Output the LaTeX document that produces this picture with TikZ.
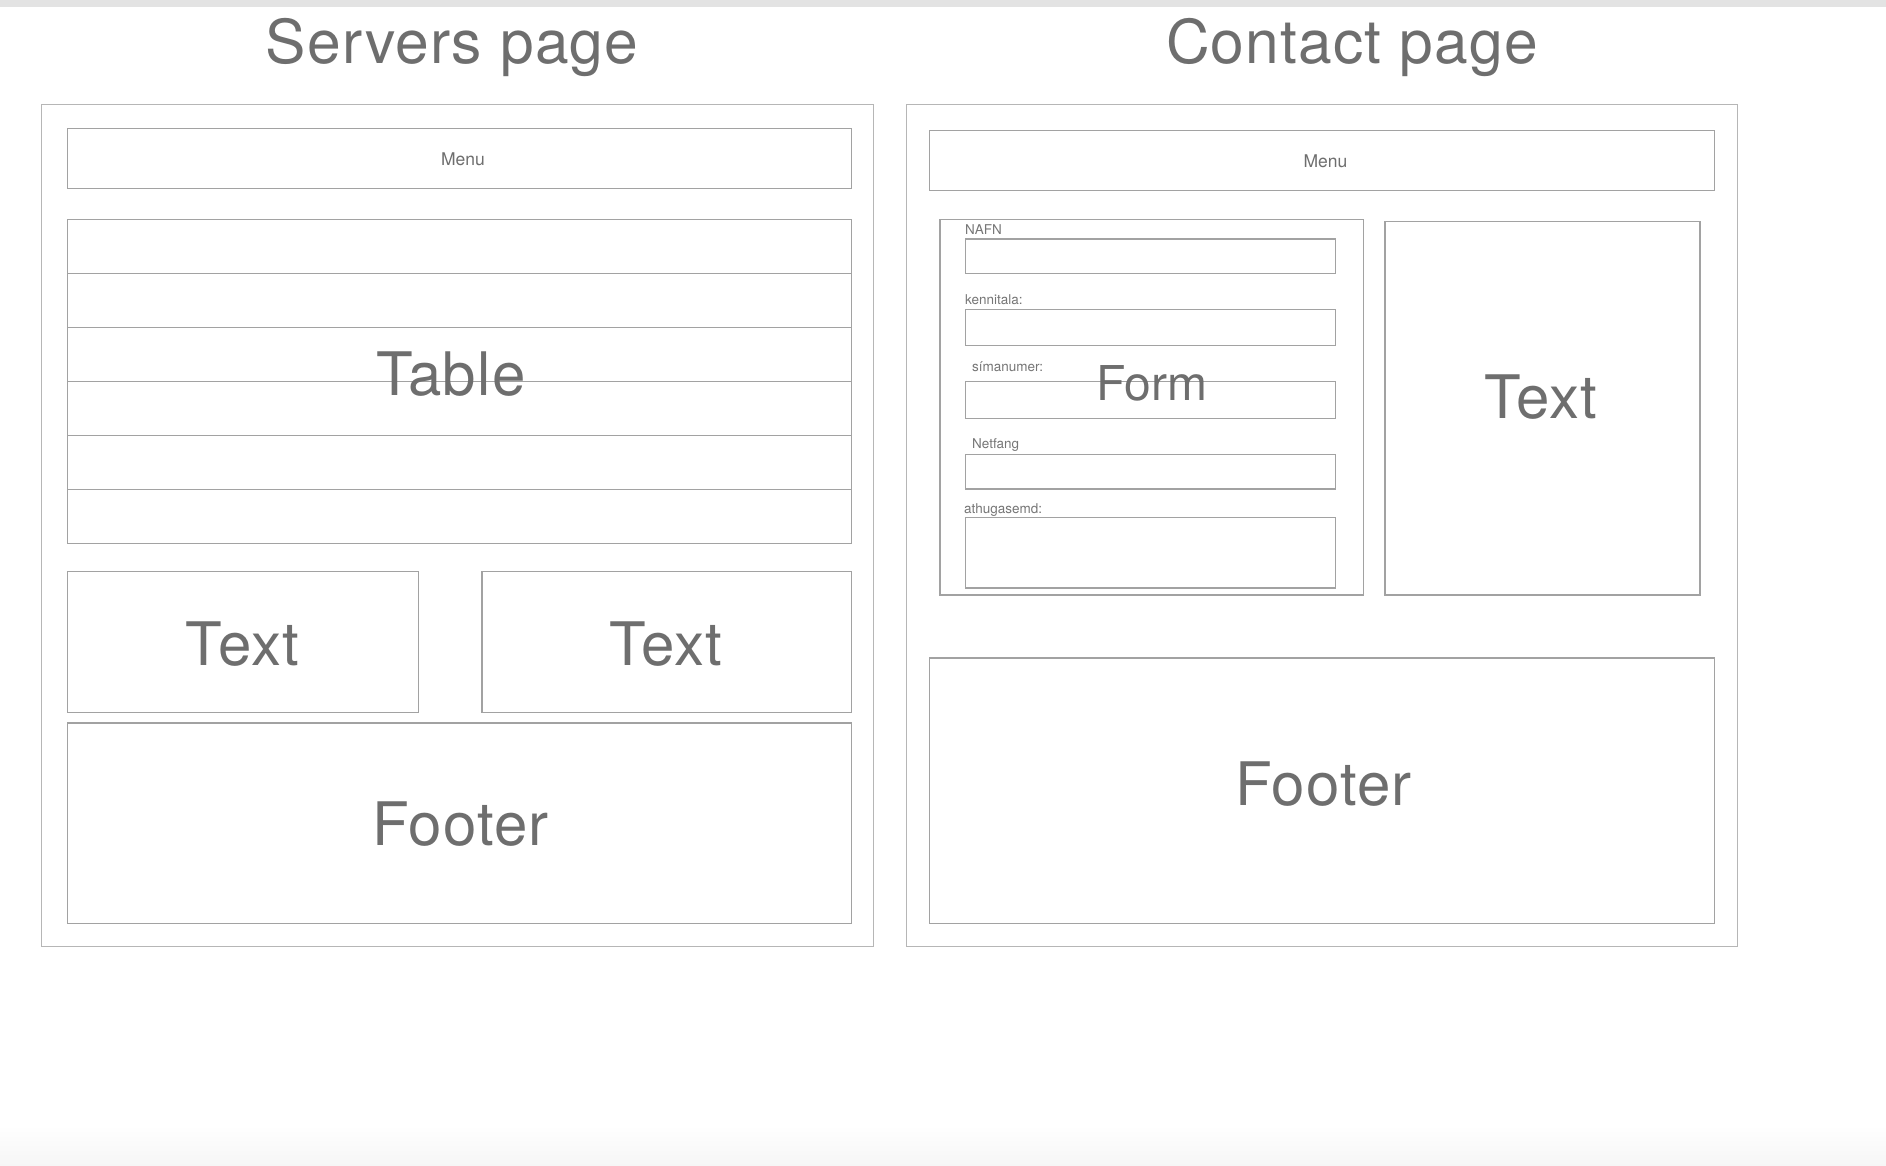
\documentclass[tikz,border=0pt]{standalone}
\usepackage{fontspec}
\setmainfont{TeX Gyre Heros}
\newfontfamily\wideheros[LetterSpace=2]{TeX Gyre Heros}
\usetikzlibrary{fit}
\definecolor{wire}{HTML}{A2A2A2}
\definecolor{framegray}{HTML}{B6B6B6}
\definecolor{ink}{HTML}{6E6E6E}
\definecolor{labelink}{HTML}{767676}
\definecolor{topbar}{HTML}{E3E3E3}
\definecolor{bottomhaze}{HTML}{F6F6F6}

% a wireframe rectangle given by its corners: [style]{name}{x1}{y1}{x2}{y2}
\newcommand\wirebox[6][]{%
  \node[wbox,#1,fit={(#3,#4) (#5,#6)}] (#2) {};}

\begin{document}
\begin{tikzpicture}[x=1pt,y=-1pt,
  wbox/.style={draw=wire, line width=1.2pt, inner sep=0pt, outer sep=0pt, rectangle},
  pageframe/.style={draw=framegray, line width=1.6pt},
  wtext/.style={text=ink, inner sep=0pt, anchor=base},
  title/.style={wtext, font=\wideheros\fontsize{60.5}{72}\selectfont},
  big/.style={wtext, font=\wideheros\fontsize{60}{72}\selectfont},
  mid/.style={wtext, font=\fontsize{48}{58}\selectfont},
  menutext/.style={wtext, font=\fontsize{17.5}{21}\selectfont},
  fieldlabel/.style={text=labelink, inner sep=0pt, anchor=base west, font=\fontsize{13.5}{16}\selectfont}]

\useasboundingbox (0,0) rectangle (1886,1166);
\fill[white] (0,0) rectangle (1886,1166);
\fill[topbar] (0,0) rectangle (1886,7.5);
\shade[top color=white, bottom color=bottomhaze] (0,1125) rectangle (1886,1166);

% ---------- Servers page ----------
\node[title] (stitle) at (452,63.3) {Servers page};
\wirebox[pageframe]{sframe}{41.5}{104.5}{873.5}{946.5}
\wirebox{smenu}{67.5}{128.5}{851.5}{188.5}
\node[menutext] (smenulabel) at (463,165.7) {Menu};

\wirebox{stable}{67.5}{219.5}{851.5}{543.5}
\foreach \k in {1,...,5}
  \draw[wire, line width=1.2pt] ([yshift=-\k*54pt]stable.north west) -- ([yshift=-\k*54pt]stable.north east);
\node[big] (stablelabel) at (451,395) {Table};

\wirebox{stext1}{67.5}{571.5}{418.5}{712.5}
\node[big] (stext1label) at (242.5,665.3) {Text};
\wirebox{stext2}{482}{571.5}{851.5}{712.5}
\node[big] (stext2label) at (666,665.3) {Text};

\wirebox{sfooter}{67.5}{723}{851.5}{923.5}
\node[big] (sfooterlabel) at (460.5,845.7) {Footer};

% ---------- Contact page ----------
\node[title] (ctitle) at (1352,63.3) {Contact page};
\wirebox[pageframe]{cframe}{906.5}{104.5}{1737.5}{946.5}
\wirebox{cmenu}{929.5}{130.5}{1714.5}{190.5}
\node[menutext] (cmenulabel) at (1325.5,167.7) {Menu};

\wirebox{cform}{940}{219.5}{1363.5}{595}
\node[fieldlabel] (lnafn) at (965,234.7) {NAFN};
\wirebox{fnafn}{965.5}{239}{1335.5}{273.5}
\node[fieldlabel] (lkenn) at (965,304) {kennitala:};
\wirebox{fkenn}{965.5}{309.5}{1335.5}{345.5}
\node[fieldlabel] (lsimi) at (972,371.7) {símanumer:};
\wirebox{fsimi}{965.5}{381.5}{1335.5}{418.5}
\node[fieldlabel] (lnet) at (972,448.3) {Netfang};
\wirebox{fnet}{965.5}{454.5}{1335.5}{489}
\node[fieldlabel] (lathu) at (964,513) {athugasemd:};
\wirebox{fathu}{965.5}{517.5}{1335.5}{588}
\node[mid] (cformlabel) at (1152,400) {Form};

\wirebox{ctext}{1385}{221.5}{1700}{595}
\node[big] (ctextlabel) at (1541,418.6) {Text};

\wirebox{cfooter}{929.5}{658}{1714.5}{923.5}
\node[big] (cfooterlabel) at (1323.5,805) {Footer};

\end{tikzpicture}
\end{document}
